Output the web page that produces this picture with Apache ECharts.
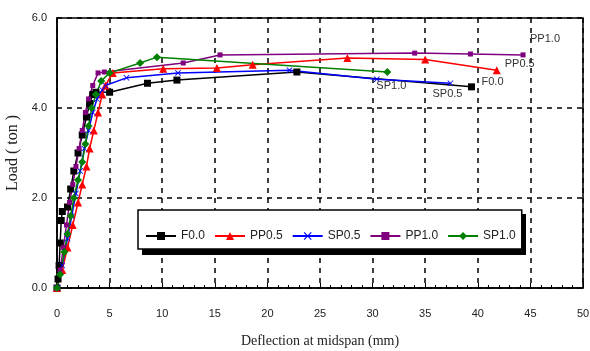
<!DOCTYPE html>
<html>
<head>
<meta charset="utf-8">
<script src="https://cdn.jsdelivr.net/npm/echarts@6/dist/echarts.min.js"></script>
<style>
  html, body { margin: 0; padding: 0; background: #fff; }
  #chart { width: 590px; height: 351px; }
</style>
</head>
<body>
<div id="chart"></div>
<script>
// deflection (mm) / load (ton)
const seriesNames = ['F0.0', 'PP0.5', 'SP0.5', 'PP1.0', 'SP1.0'];

const f00X = [0, 0.1, 0.2, 0.3, 0.4, 0.5, 1.0, 1.3, 1.6, 2.0, 2.4, 2.8, 3.1, 3.4, 3.7, 5.0, 8.6, 11.4, 22.8, 39.4];
const f00Y = [0, 2, 5, 10, 15, 17, 18, 22, 26, 30, 34, 38, 41, 43, 43.5, 43.5, 45.5, 46.2, 48.0, 44.7];

const pp05X = [0, 0.5, 1.0, 1.5, 2.0, 2.4, 2.8, 3.1, 3.5, 3.9, 4.3, 4.6, 5.3, 10.1, 15.2, 18.6, 27.6, 35.0, 41.8];
const pp05Y = [0, 4, 9, 14, 19, 23, 27, 31, 35, 39, 43, 45, 47.8, 48.7, 48.9, 49.6, 51.1, 50.8, 48.4];

const sp05X = [0, 0.5, 1.0, 1.4, 1.8, 2.2, 2.6, 3.0, 3.4, 3.8, 4.3, 4.6, 6.6, 11.5, 22.1, 30.4, 37.4];
const sp05Y = [0, 5, 11, 16, 21, 26, 31, 35, 39, 42, 44, 45, 46.7, 47.8, 48.4, 46.4, 45.5];

const pp10X = [0, 0.3, 0.6, 0.9, 1.2, 1.5, 1.8, 2.1, 2.4, 2.7, 3.0, 3.4, 3.9, 4.5, 12.0, 15.5, 34.0, 39.3, 44.3];
const pp10Y = [0, 4, 9, 14, 19, 23, 27, 31, 35, 39, 42, 45, 47.8, 48.0, 50.0, 51.8, 52.2, 52.0, 51.8];

const sp10X = [0, 0.3, 0.7, 1.0, 1.3, 1.6, 2.0, 2.4, 2.7, 3.0, 3.3, 3.7, 4.2, 5.0, 7.9, 9.5, 31.4];
const sp10Y = [0, 3, 8, 12, 16, 20, 24, 28, 32, 36, 40, 43, 46, 47.8, 50.0, 51.3, 48.0];

const xTicks = [0, 5, 10, 15, 20, 25, 30, 35, 40, 45, 50];
const yTickLabels = ['0.0', '2.0', '4.0', '6.0'];

const chart = echarts.init(document.getElementById('chart'));

const xShape = 'path://M0,1L1,0L5,4L9,0L10,1L6,5L10,9L9,10L5,6L1,10L0,9L4,5Z';

// looks of each series, same order as seriesNames
const looks = [
  { color: '#000000', symbol: 'rect', size: 7, end: { align: 'left', offset: [10, -5] } },
  { color: '#ff0000', symbol: 'triangle', size: 8, end: { align: 'left', offset: [8, -6] } },
  { color: '#0000ff', symbol: xShape, size: 6, end: { align: 'center', offset: [-3, 11] } },
  { color: '#800080', symbol: 'rect', size: 5, end: { align: 'left', offset: [7, -16] } },
  { color: '#008000', symbol: 'diamond', size: 8, end: { align: 'center', offset: [4, 14] } }
];

const xs = [f00X, pp05X, sp05X, pp10X, sp10X];
const ys = [f00Y, pp05Y, sp05Y, pp10Y, sp10Y];

const series = seriesNames.map((name, i) => {
  const lk = looks[i];
  const data = xs[i].map((x, j) => {
    if (j === xs[i].length - 1) {
      return {
        value: [x, ys[i][j]],
        label: {
          show: true,
          position: 'inside',
          formatter: name,
          align: lk.end.align,
          verticalAlign: 'middle',
          offset: lk.end.offset,
          color: '#333',
          fontFamily: 'Liberation Sans',
          fontSize: 11
        }
      };
    }
    return [x, ys[i][j]];
  });
  return {
    name: name,
    type: 'line',
    data: data,
    symbol: lk.symbol,
    symbolSize: lk.size,
    showAllSymbol: true,
    lineStyle: { color: lk.color, width: 1.5 },
    itemStyle: { color: lk.color },
    emphasis: { disabled: true },
    animation: false
  };
});

const option = {
  animation: false,
  grid: {
    left: 57, right: 7, top: 18, bottom: 63,
    outerBoundsMode: 'none',
    show: true,
    borderColor: '#000',
    borderWidth: 1.5,
    backgroundColor: '#fff'
  },
  // drop shadow of the legend box
  graphic: [{
    type: 'rect',
    z: 3,
    shape: { x: 142, y: 214, width: 384, height: 41 },
    style: { fill: '#000' },
    silent: true
  }],
  legend: {
    data: seriesNames,
    left: 138,
    top: 210,
    z: 4,
    orient: 'horizontal',
    itemWidth: 30,
    itemHeight: 10,
    itemGap: 9,
    padding: [20, 6, 7, 7],
    backgroundColor: '#fff',
    borderColor: '#000',
    borderWidth: 1.5,
    borderRadius: 0,
    textStyle: { fontFamily: 'Liberation Sans', fontSize: 12, color: '#222' },
    selectedMode: false
  },
  xAxis: {
    type: 'value',
    min: xTicks[0],
    max: xTicks[xTicks.length - 1],
    interval: 5,
    name: 'Deflection at midspan (mm)',
    nameLocation: 'middle',
    nameGap: 46,
    nameTextStyle: { fontFamily: 'Liberation Serif', fontSize: 14, color: '#222' },
    axisLine: { show: true, lineStyle: { color: '#000', width: 1.5 } },
    axisTick: { show: true, inside: true, length: 5, lineStyle: { color: '#000' } },
    minorTick: { show: true, splitNumber: 5, length: 3, lineStyle: { color: '#000' } },
    axisLabel: { fontFamily: 'Liberation Sans', fontSize: 11, color: '#222', margin: 20 },
    splitLine: { show: true, lineStyle: { color: '#000', type: [5, 5], width: 1.5 } }
  },
  yAxis: {
    type: 'value',
    min: 0,
    max: 60,
    interval: 20,
    name: 'Load ( ton )',
    nameLocation: 'middle',
    nameGap: 28,
    nameTextStyle: { fontFamily: 'Liberation Serif', fontSize: 16, color: '#222' },
    axisLine: { show: true, lineStyle: { color: '#000', width: 1.5 } },
    axisTick: { show: false },
    axisLabel: {
      fontFamily: 'Liberation Sans', fontSize: 11, color: '#222', margin: 10,
      formatter: (v) => yTickLabels[v / 20]
    },
    splitLine: { show: true, lineStyle: { color: '#000', type: [5, 5], width: 1.5 } }
  },
  series: series
};

chart.setOption(option);
</script>
</body>
</html>
